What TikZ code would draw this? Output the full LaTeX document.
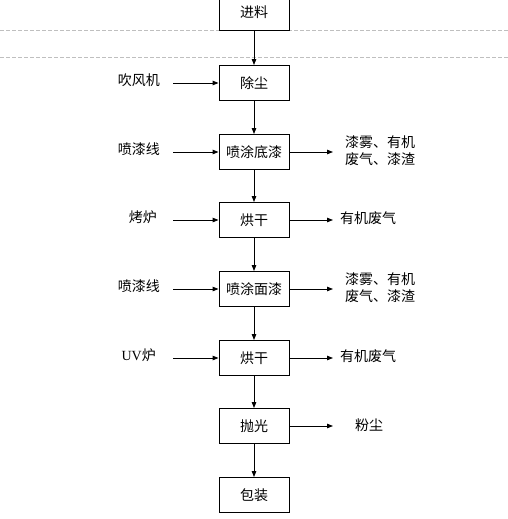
\documentclass[tikz,border=0pt]{standalone}
\usepackage{fontspec}
\setmainfont{Noto Sans CJK SC}
\newfontfamily\latinfont{Liberation Serif}
\usetikzlibrary{arrows.meta, positioning}

\begin{document}
\begin{tikzpicture}[
  x=1pt, y=-1pt,
  every node/.style={font=\fontsize{14}{17}\selectfont},
  proc/.style={draw=black, line width=0.9pt, minimum width=70pt, minimum height=35pt, inner sep=2pt, align=center},
  src/.style={anchor=east, inner sep=3pt},
  sink/.style={anchor=west, inner sep=3pt, align=left},
  arrow/.style={-{Triangle[length=6pt, width=4.5pt]}, line width=0.9pt, draw=black},
  pagebreak/.style={draw=black!25, line width=0.6pt, dash pattern=on 4pt off 2pt}
]
\clip (0,0) rectangle (508,519);

% page break lines
\draw[pagebreak] (0,30) -- (508,30);
\draw[pagebreak] (0,57) -- (508,57);

% === MAIN CHAIN ===
\node[proc, fill=white] (feed) at (254,12.5) {进料};
\node[proc] (dedust)  at (254,83)  {除尘};
\node[proc] (primer)  at (254,152) {喷涂底漆};
\node[proc] (dry1)    at (254,220) {烘干};
\node[proc] (topcoat) at (254,289) {喷涂面漆};
\node[proc] (dry2)    at (254,358) {烘干};
\node[proc] (polish)  at (254,426) {抛光};
\node[proc] (pack)    at (254,495) {包装};

\draw[arrow] (feed) -- (dedust);
\draw[arrow] (dedust) -- (primer);
\draw[arrow] (primer) -- (dry1);
\draw[arrow] (dry1) -- (topcoat);
\draw[arrow] (topcoat) -- (dry2);
\draw[arrow] (dry2) -- (polish);
\draw[arrow] (polish) -- (pack);

% === INPUTS (left) ===
\node[src] (blower) at (163,80)  {吹风机};
\node[src] (line1)  at (163,149) {喷漆线};
\node[src] (oven)   at (160,217) {烤炉};
\node[src] (line2)  at (163,286) {喷漆线};
\node[src] (uvoven) at (159,355) {{\latinfont UV}炉};

\draw[arrow, shorten <=10pt] (blower.east |- dedust) -- (dedust);
\draw[arrow, shorten <=10pt] (line1.east |- primer) -- (primer);
\draw[arrow, shorten <=13pt] (oven.east |- dry1) -- (dry1);
\draw[arrow, shorten <=10pt] (line2.east |- topcoat) -- (topcoat);
\draw[arrow, shorten <=14pt] (uvoven.east |- dry2) -- (dry2);

% === OUTPUTS (right) ===
\node[sink] (waste1) at (342,151) {漆雾、有机\\废气、漆渣};
\node[sink] (gas1)   at (337,218) {有机废气};
\node[sink] (waste2) at (342,288) {漆雾、有机\\废气、漆渣};
\node[sink] (gas2)   at (337,356) {有机废气};
\node[sink] (dust)   at (352,425) {粉尘};

\draw[arrow, shorten >=9pt] (primer) -- (waste1.west |- primer);
\draw[arrow, shorten >=4pt] (dry1) -- (gas1.west |- dry1);
\draw[arrow, shorten >=9pt] (topcoat) -- (waste2.west |- topcoat);
\draw[arrow, shorten >=4pt] (dry2) -- (gas2.west |- dry2);
\draw[arrow, shorten >=19pt] (polish) -- (dust.west |- polish);

\end{tikzpicture}
\end{document}
